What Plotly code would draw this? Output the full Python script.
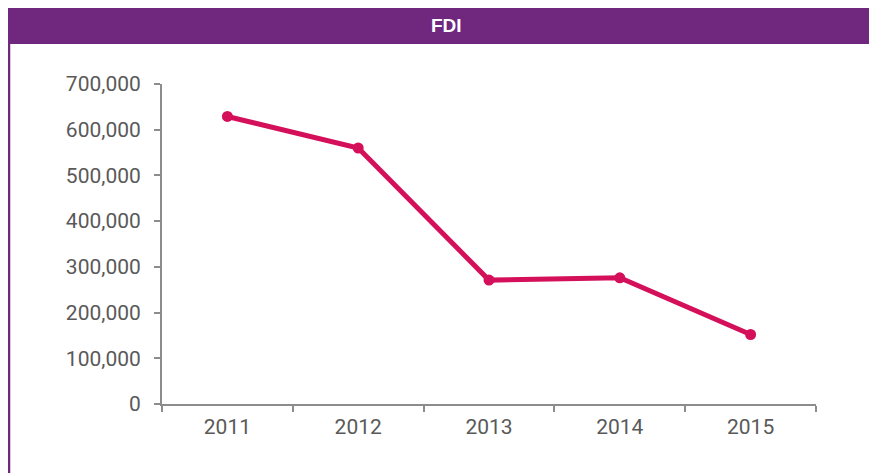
import plotly.graph_objects as go

years = ["2011", "2012", "2013", "2014", "2015"]
fdi = [629000, 560000, 271000, 276000, 152000]

y_ticks = [0, 100000, 200000, 300000, 400000, 500000, 600000, 700000]

PURPLE = "#70287f"
LINE = "#d4105a"
AXIS = "#8c8c8c"

# the page puts the figure 8px in from the top-left corner,
# so the plot area is 154..808 x 76..396 in figure pixels
L, R, T, B = 154, 808, 76, 396
W, H = R - L, B - T


def px_x(x):
    return (x - L) / W


def px_y(y):
    return (B - y) / H


fig = go.Figure()
fig.add_trace(go.Scatter(
    x=years,
    y=fdi,
    mode="lines+markers",
    line=dict(color=LINE, width=5),
    marker=dict(color=LINE, size=11),
    showlegend=False,
))

fig.update_layout(
    width=877,
    height=473,
    margin=dict(l=L, r=877 - R, t=T, b=473 - B),
    paper_bgcolor="white",
    plot_bgcolor="white",
    font=dict(family="Roboto, Arial, sans-serif", size=21, color="#595959"),
    shapes=[
        dict(type="rect", xref="paper", yref="paper",
             x0=px_x(-10), x1=px_x(890),
             y0=px_y(36), y1=px_y(-2),
             fillcolor=PURPLE, line=dict(width=0), layer="below"),
        dict(type="line", xref="paper", yref="paper",
             x0=px_x(1), x1=px_x(1),
             y0=px_y(36), y1=px_y(480),
             line=dict(color=PURPLE, width=2.5)),
    ],
    annotations=[
        dict(text="<b>FDI</b>", xref="paper", yref="paper",
             x=px_x(438), y=px_y(17.5),
             showarrow=False, xanchor="center", yanchor="middle",
             font=dict(family="Liberation Sans, Arial, sans-serif", size=19, color="white")),
    ],
)

fig.update_xaxes(
    type="category",
    range=[-0.5, len(years) - 0.5],
    showline=True, linecolor=AXIS, linewidth=2,
    ticks="outside", tickson="boundaries", ticklen=6, tickcolor=AXIS, tickwidth=1.5,
    ticklabelstandoff=3,
    showgrid=False, zeroline=False,
)
fig.update_yaxes(
    range=[0, 700000],
    tickvals=y_ticks, tickformat=",",
    showline=True, linecolor=AXIS, linewidth=2,
    ticks="outside", ticklen=6, tickcolor=AXIS, tickwidth=1.5,
    ticklabelstandoff=9,
    showgrid=False, zeroline=False,
)

fig.write_html("out.html")
